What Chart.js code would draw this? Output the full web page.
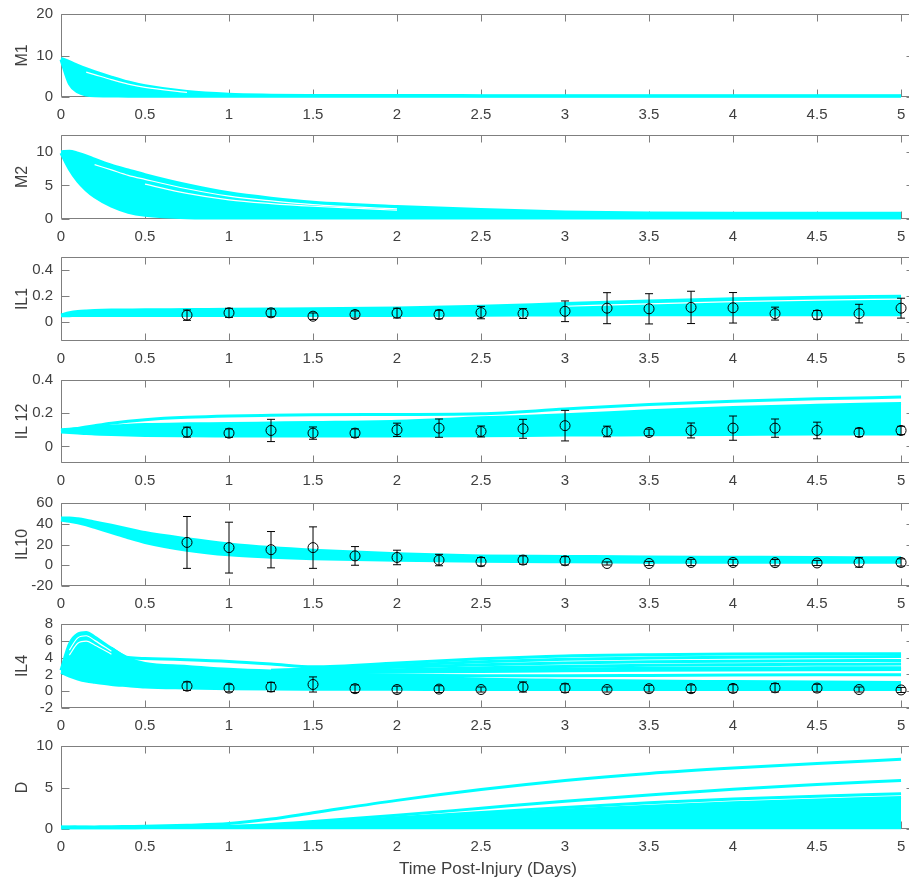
<!DOCTYPE html>
<html><head><meta charset="utf-8">
<script src="https://cdn.jsdelivr.net/npm/chart.js@4.4.1/dist/chart.umd.min.js"></script>
<style>
html,body{margin:0;padding:0;background:#fff;overflow:hidden;width:909px;height:882px}
#wrap{position:relative;width:909px;height:882px;overflow:hidden}
canvas{position:absolute;left:0}
</style></head><body><div id="wrap"></div>
<script>
// ---------- data ----------
const tGrid = [0,0.05,0.1,0.15,0.2,0.3,0.4,0.5,0.75,1,1.25,1.5,2,2.5,3,3.5,4,4.5,5];
const xTickValues = [0,0.5,1,1.5,2,2.5,3,3.5,4,4.5,5];
const xTickLabels = ['0','0.5','1','1.5','2','2.5','3','3.5','4','4.5','5'];
const obsTime = [0.75,1,1.25,1.5,1.75,2,2.25,2.5,2.75,3,3.25,3.5,3.75,4,4.25,4.5,4.75,5];

const panelLabels = ['M1','M2','IL1','IL 12','IL10','IL4','D'];
const xAxisTitle = 'Time Post-Injury (Days)';

// M1
const m1YTicks = [0,10,20];
const m1YLabels = ['0','10','20'];
const m1Upper = [9.3,8.5,7.6,6.8,6.1,4.8,3.6,2.7,1.3,0.65,0.45,0.38,0.35,0.33,0.33,0.33,0.33,0.33,0.33];
const m1Lower = [9.0,3.2,1.2,0.5,0.3,0.25,0.2,0.2,0.2,0.2,0.2,0.2,0.2,0.2,0.2,0.2,0.2,0.2,0.2];
const m1Gap = [null,null,null,6.0,5.4,4.2,3.1,2.3,1.1,null,null,null,null,null,null,null,null,null,null];

// M2
const m2YTicks = [0,5,10];
const m2YLabels = ['0','5','10'];
const m2Upper = [10.0,10.1,9.8,9.4,8.9,8.0,7.3,6.6,5.1,3.9,3.1,2.5,1.85,1.4,1.05,0.9,0.85,0.85,0.85];
const m2Lower = [9.8,7.4,5.6,4.3,3.3,1.9,1.0,0.55,0.2,0.15,0.15,0.15,0.15,0.15,0.15,0.15,0.15,0.15,0.15];
const m2Gap1 = [null,null,null,null,8.1,7.3,6.5,5.9,4.5,3.4,2.7,2.15,1.5,null,null,null,null,null,null];
const m2Gap2 = [null,null,null,null,null,null,null,5.2,3.8,2.85,2.3,1.9,1.3,null,null,null,null,null,null];

// IL1
const il1YTicks = [0,0.2,0.4];
const il1YLabels = ['0','0.2','0.4'];
const il1Upper = [0.052,0.068,0.078,0.083,0.086,0.089,0.09,0.091,0.093,0.095,0.097,0.099,0.106,0.118,0.14,0.16,0.176,0.188,0.196];
const il1Lower = [0.045,0.046,0.047,0.047,0.047,0.047,0.047,0.047,0.047,0.047,0.047,0.047,0.048,0.05,0.052,0.053,0.054,0.054,0.054];
const il1Gap = [null,null,null,null,null,null,null,null,null,null,null,null,null,null,0.119,0.138,0.154,0.166,0.174];
const il1Mean = [0.05,0.068,0.068,0.042,0.055,0.066,0.055,0.07,0.062,0.08,0.104,0.099,0.11,0.107,0.062,0.052,0.062,0.104];
const il1Err = [0.04,0.035,0.03,0.025,0.028,0.038,0.033,0.048,0.038,0.08,0.12,0.117,0.125,0.118,0.05,0.034,0.072,0.077];

// IL12
const il12YTicks = [0,0.2,0.4];
const il12YLabels = ['0','0.2','0.4'];
const il12Top = [0.092,0.1,0.108,0.117,0.125,0.14,0.152,0.161,0.175,0.183,0.187,0.19,0.192,0.196,0.225,0.252,0.272,0.287,0.297];
const il12BandUp = [0.1,0.104,0.108,0.112,0.116,0.122,0.128,0.132,0.136,0.138,0.141,0.144,0.152,0.172,0.19,0.215,0.235,0.248,0.258];
const il12Lower = [0.086,0.083,0.08,0.077,0.075,0.071,0.068,0.066,0.064,0.063,0.062,0.062,0.062,0.064,0.068,0.07,0.072,0.074,0.075];
const il12Mean = [0.086,0.08,0.096,0.08,0.08,0.1,0.11,0.09,0.106,0.125,0.09,0.084,0.096,0.11,0.11,0.096,0.084,0.096];
const il12Err = [0.03,0.025,0.067,0.037,0.025,0.04,0.055,0.033,0.057,0.092,0.032,0.02,0.045,0.073,0.055,0.05,0.025,0.025];

// IL10
const il10YTicks = [-20,0,20,40,60];
const il10YLabels = ['-20','0','20','40','60'];
const il10Upper = [45.5,45.5,44.8,43.5,41.8,38.5,35,31.5,25.5,20.5,17,14.5,11,9,8.5,8,7.7,7.4,7.2];
const il10Lower = [43.5,42.5,41,39,36.5,31.5,26.5,22,14.5,10,7.8,6.3,4.8,3.8,3.3,3,2.9,2.8,2.8];
const il10Mean = [22,17,15,17,9,7.5,5,3.4,5,4.3,1.7,1.7,2.7,2.7,2.5,2.2,2.7,2.7];
const il10Err = [25,24.5,17.5,20,9,7,5.5,4,4,4,1.5,2,3,3,3,2.5,4.5,3.5];

// IL4
const il4YTicks = [-2,0,2,4,6,8];
const il4YLabels = ['-2','0','2','4','6','8'];
const il4BandUp = [2.5,5.6,6.8,7.0,6.45,5.1,3.9,3.3,2.95,2.6,2.4,2.3,1.8,1.45,1.3,1.2,1.15,1.1,1.05];
const il4Lower = [2.25,1.8,1.45,1.2,1.05,0.8,0.65,0.5,0.38,0.3,0.26,0.24,0.22,0.2,0.2,0.2,0.2,0.2,0.2];
const il4Fan1 = [null,null,null,null,null,5.1,4.0,3.9,3.75,3.55,3.25,2.9,3.35,3.85,4.2,4.35,4.42,4.45,4.45];
const il4Fan2 = [null,null,null,null,null,null,null,null,null,null,2.5,2.65,3.1,3.5,3.8,3.95,4.05,4.1,4.12];
const il4Fan3 = [null,null,null,null,null,null,null,null,null,null,2.4,2.5,2.85,3.15,3.35,3.5,3.58,3.63,3.66];
const il4Fan4 = [null,null,null,null,null,null,null,null,null,null,2.3,2.4,2.55,2.8,2.95,3.08,3.15,3.2,3.24];
const il4Fan5 = [null,null,null,null,null,null,null,null,null,null,2.25,2.3,2.4,2.55,2.65,2.72,2.76,2.78,2.8];
const il4Fan6 = [null,null,null,null,null,null,null,null,null,null,2.2,2.2,2.25,2.35,2.42,2.48,2.52,2.55,2.57];
const il4Fan7 = [null,null,null,null,null,null,null,null,null,null,2.0,2.0,1.9,1.85,1.85,1.88,1.92,1.95,1.97];
const il4GapA = [null,4.9,6.35,6.6,6.05,4.75,null,null,null,null,null,null,null,null,null,null,null,null,null];
const il4GapB = [null,4.3,5.7,5.95,5.5,4.4,null,null,null,null,null,null,null,null,null,null,null,null,null];
const il4Mean = [0.6,0.37,0.5,0.8,0.3,0.2,0.25,0.2,0.5,0.37,0.2,0.3,0.3,0.33,0.4,0.37,0.2,0.15];
const il4Err = [0.5,0.45,0.55,0.9,0.45,0.4,0.4,0.3,0.6,0.5,0.3,0.4,0.45,0.45,0.5,0.45,0.3,0.3];

// D
const dYTicks = [0,5,10];
const dYLabels = ['0','5','10'];
const dBandUp = [0.25,0.24,0.22,0.2,0.19,0.18,0.17,0.18,0.22,0.3,0.42,0.6,1.15,1.75,2.3,2.75,3.15,3.5,3.8];
const dBandLow = [0.15,0.15,0.15,0.15,0.15,0.15,0.15,0.15,0.15,0.15,0.15,0.15,0.15,0.15,0.15,0.15,0.15,0.15,0.15];
const dTop = [0.2,0.22,0.23,0.24,0.25,0.27,0.3,0.33,0.45,0.65,1.2,1.95,3.45,4.75,5.85,6.7,7.35,7.9,8.4];
const dSecond = [0.15,0.15,0.15,0.15,0.15,0.15,0.16,0.17,0.2,0.3,0.55,0.9,1.65,2.5,3.35,4.1,4.8,5.35,5.85];
const dThird = [null,null,null,null,null,null,null,null,null,null,null,0.65,1.35,2.0,2.6,3.15,3.6,3.95,4.25];

// ---------- styling / helpers ----------
const CYAN = '#00ffff';
const AXIS_GRAY = '#7f7f7f';
const TEXT = '#404040';
const FONT = "'Liberation Sans', Arial, Helvetica, sans-serif";
const X_MAX = 5.083;
const AREA_LEFT = 61;
const AREA_RIGHT = 61 + X_MAX * 168;

function pts(xs, ys){ return xs.map((x,i)=>({x:x, y: ys[i]})); }
function line(ys, o){
  return Object.assign({data: pts(tGrid, ys), borderColor: CYAN, backgroundColor: CYAN, borderWidth: 3,
    pointRadius: 0, pointHoverRadius: 0, cubicInterpolationMode: 'monotone', fill: false, clip: 3, order: 3, spanGaps: false}, o || {});
}
function band(up, low){ return [line(up, {fill: '+1', order: 4}), line(low, {order: 4})]; }
function gap(ys){ return line(ys, {borderColor: '#ffffff', backgroundColor: '#ffffff', borderWidth: 1.2, order: 2}); }
function obs(mean, err){
  return {data: pts(obsTime, mean), errors: err, showLine: false, pointRadius: 5, pointHoverRadius: 5,
    pointStyle: 'circle', pointBorderColor: '#000', pointBackgroundColor: 'rgba(0,0,0,0)', pointBorderWidth: 1,
    borderColor: '#000', order: 0, clip: false};
}

const panels = [
  {top:14, bottom:97, yMin:0, yMax:20, yTicks:m1YTicks, yLabels:m1YLabels,
   datasets: () => [...band(m1Upper, m1Lower), gap(m1Gap)]},
  {top:135, bottom:219, yMin:0, yMax:12.5, yTicks:m2YTicks, yLabels:m2YLabels,
   datasets: () => [...band(m2Upper, m2Lower), gap(m2Gap1), gap(m2Gap2)]},
  {top:257, bottom:341, yMin:-0.15, yMax:0.5, yTicks:il1YTicks, yLabels:il1YLabels,
   datasets: () => [obs(il1Mean, il1Err), ...band(il1Upper, il1Lower), gap(il1Gap)]},
  {top:380, bottom:463, yMin:-0.1, yMax:0.4, yTicks:il12YTicks, yLabels:il12YLabels,
   datasets: () => [obs(il12Mean, il12Err), ...band(il12BandUp, il12Lower), line(il12Top)]},
  {top:503, bottom:586, yMin:-20, yMax:60, yTicks:il10YTicks, yLabels:il10YLabels,
   datasets: () => [obs(il10Mean, il10Err), ...band(il10Upper, il10Lower)]},
  {top:624, bottom:708, yMin:-2, yMax:8, yTicks:il4YTicks, yLabels:il4YLabels,
   datasets: () => [obs(il4Mean, il4Err), ...band(il4BandUp, il4Lower), line(il4Fan1), line(il4Fan2), line(il4Fan3),
     line(il4Fan4), line(il4Fan5), line(il4Fan6), line(il4Fan7), gap(il4GapA), gap(il4GapB)]},
  {top:746, bottom:829, yMin:0, yMax:10, yTicks:dYTicks, yLabels:dYLabels,
   datasets: () => [...band(dBandUp, dBandLow), line(dTop), line(dSecond), line(dThird)]}
];

const boxPlugin = {
  id: 'matlabBox',
  beforeDatasetsDraw(chart){
    const {ctx, chartArea: a, scales: {x, y}} = chart;
    const L = Math.round(a.left) + 0.5, R = Math.round(a.right) - 0.5;
    const T = Math.round(a.top) + 0.5, B = Math.round(a.bottom) - 0.5;
    ctx.save();
    ctx.strokeStyle = AXIS_GRAY; ctx.lineWidth = 1;
    ctx.beginPath();
    ctx.rect(L, T, R - L, B - T);
    x.ticks.forEach(t => {
      const px = Math.round(x.getPixelForValue(t.value)) + 0.5;
      ctx.moveTo(px, B); ctx.lineTo(px, B - 7);
      ctx.moveTo(px, T); ctx.lineTo(px, T + 7);
    });
    y.ticks.forEach(t => {
      const py = Math.round(y.getPixelForValue(t.value)) + 0.5;
      ctx.moveTo(L, py); ctx.lineTo(L + 8, py);
      ctx.moveTo(R, py); ctx.lineTo(R - 8, py);
    });
    ctx.stroke();
    ctx.restore();
  }
};

const errPlugin = {
  id: 'errorBars',
  afterDatasetsDraw(chart){
    const {ctx, scales: {x, y}} = chart;
    ctx.save();
    ctx.strokeStyle = '#000'; ctx.lineWidth = 1;
    chart.data.datasets.forEach(ds => {
      if (!ds.errors) return;
      ds.data.forEach((p, i) => {
        const px = x.getPixelForValue(p.x);
        const y1 = y.getPixelForValue(p.y + ds.errors[i]);
        const y2 = y.getPixelForValue(p.y - ds.errors[i]);
        ctx.beginPath();
        ctx.moveTo(px, y1); ctx.lineTo(px, y2);
        ctx.moveTo(px - 4, y1); ctx.lineTo(px + 4, y1);
        ctx.moveTo(px - 4, y2); ctx.lineTo(px + 4, y2);
        ctx.stroke();
      });
    });
    ctx.restore();
  }
};

function makeConfig(p, idx, xH){
  const last = idx === panels.length - 1;
  return {
    type: 'line',
    data: {datasets: p.datasets()},
    plugins: [boxPlugin, errPlugin],
    options: {
      responsive: false, maintainAspectRatio: false, animation: false, devicePixelRatio: 1,
      events: [],
      layout: {padding: 0},
      plugins: {legend: {display: false}, tooltip: {enabled: false}, title: {display: false}},
      scales: {
        x: {
          type: 'linear', min: 0, max: X_MAX,
          afterBuildTicks: s => { s.ticks = xTickValues.map(v => ({value: v})); },
          afterFit: s => { s.height = xH; },
          ticks: {callback: v => xTickLabels[xTickValues.indexOf(v)], autoSkip: false, maxRotation: 0,
                  font: {family: FONT, size: 15}, color: TEXT, padding: 9, includeBounds: false},
          grid: {display: false, drawTicks: false},
          border: {display: false},
          title: {display: last, text: xAxisTitle, font: {family: FONT, size: 17}, color: TEXT, padding: {top: 0, bottom: 5}}
        },
        y: {
          type: 'linear', min: p.yMin, max: p.yMax,
          afterBuildTicks: s => { s.ticks = p.yTicks.map(v => ({value: v})); },
          afterFit: s => { s.width = AREA_LEFT; },
          ticks: {callback: v => p.yLabels[p.yTicks.indexOf(v)], autoSkip: false,
                  font: {family: FONT, size: 15}, color: TEXT, padding: 8},
          grid: {display: false, drawTicks: false},
          border: {display: false},
          title: {display: true, text: panelLabels[idx], font: {family: FONT, size: 16}, color: TEXT, padding: {top: 13, bottom: 0}}
        }
      }
    }
  };
}

const wrap = document.getElementById('wrap');
panels.forEach((p, idx) => {
  const last = idx === panels.length - 1;
  const xH = last ? 56 : 30;
  const cv = document.createElement('canvas');
  let w = Math.round(AREA_RIGHT), h = (p.bottom - p.top) + 20 + xH;
  cv.width = w; cv.height = h;
  cv.style.width = w + 'px'; cv.style.height = h + 'px';
  wrap.appendChild(cv);
  let chart = new Chart(cv.getContext('2d'), makeConfig(p, idx, xH));
  // align the plotting area with the reference axes box
  for (let k = 0; k < 3; k++) {
    const a = chart.chartArea;
    const bottomGap = h - a.bottom;
    const nh = Math.round(a.top + (p.bottom - p.top) + bottomGap);
    const nw = Math.round(w + (AREA_RIGHT - a.right));
    if (nh === h && nw === w) break;
    chart.destroy();
    w = nw; h = nh;
    cv.width = w; cv.height = h;
    cv.style.width = w + 'px'; cv.style.height = h + 'px';
    chart = new Chart(cv.getContext('2d'), makeConfig(p, idx, xH));
  }
  cv.style.top = (p.top - chart.chartArea.top) + 'px';
});
</script></body></html>
